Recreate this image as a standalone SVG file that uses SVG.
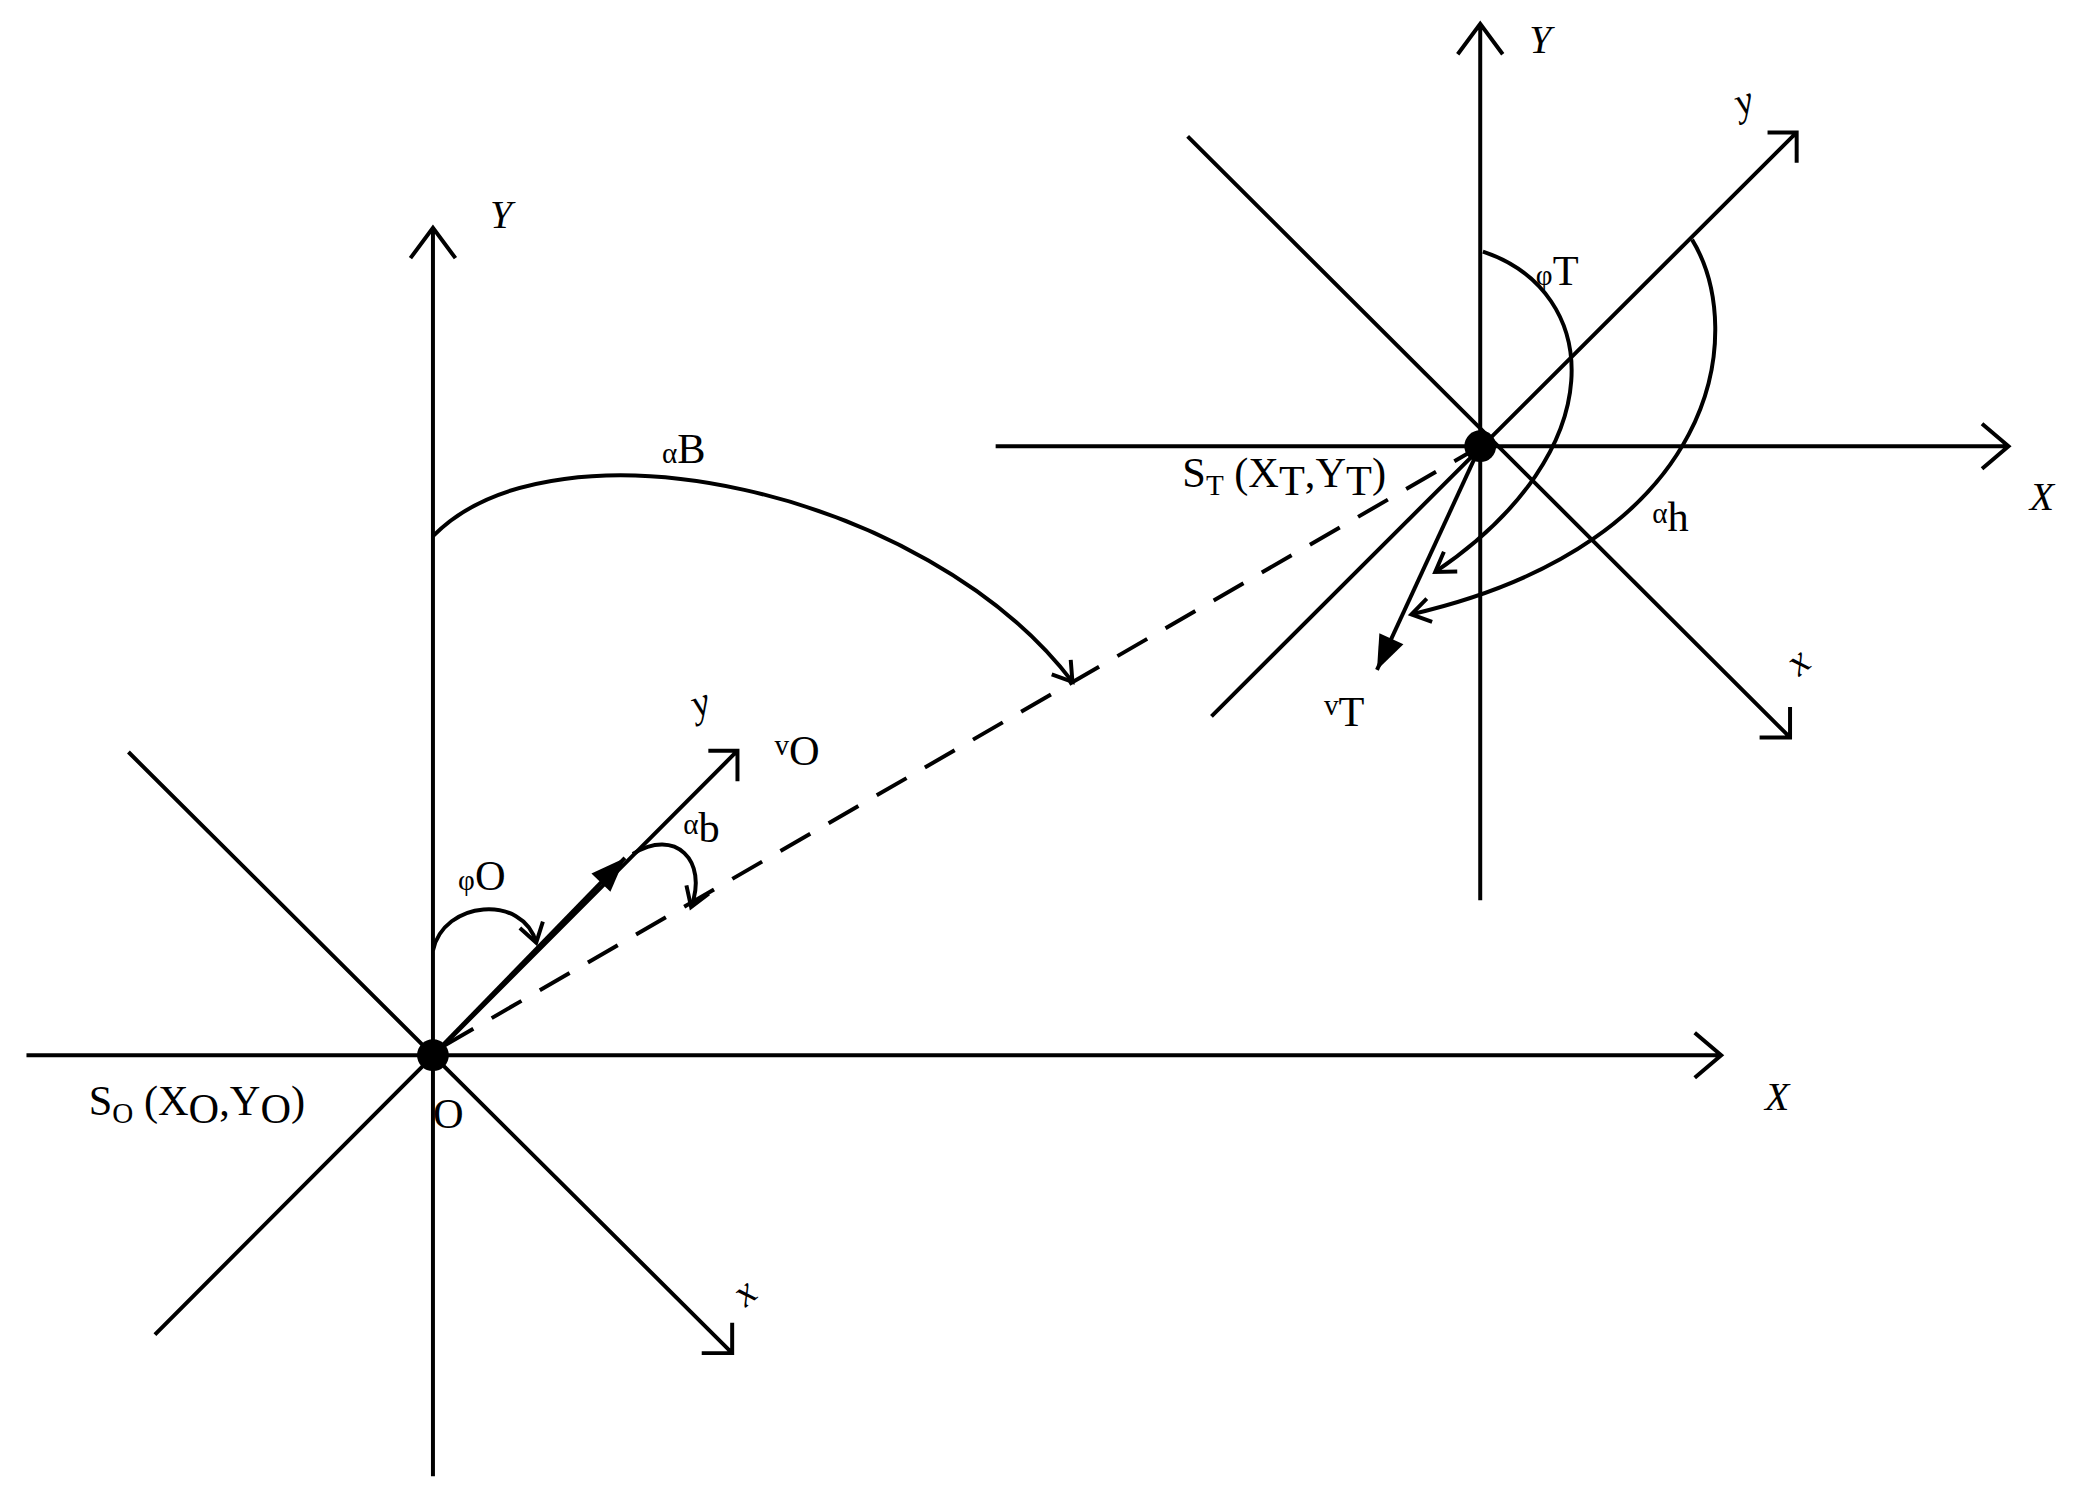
<svg xmlns="http://www.w3.org/2000/svg" width="2076" height="1500" viewBox="0 0 2076 1500">
<style>
.l{stroke:#000;stroke-width:3;fill:none}
.d{stroke:#000;stroke-width:3;fill:none;stroke-dasharray:26,16}
.t{font-family:"Liberation Serif",serif;font-size:32px;fill:#000}
.i{font-family:"Liberation Serif",serif;font-size:30px;font-style:italic;fill:#000}
.s{font-size:22px}
</style>
<defs>
<marker id="o" markerUnits="userSpaceOnUse" markerWidth="40" markerHeight="40" refX="0" refY="0" viewBox="-20 -20 40 40" orient="auto"><path d="M-14,-9 L0,0 L-14,9" stroke="#000" stroke-width="3" fill="none"/></marker>
<marker id="f" markerUnits="userSpaceOnUse" markerWidth="40" markerHeight="40" refX="0" refY="0" viewBox="-30 -20 40 40" orient="auto"><path d="M-26,-10 L0,0 L-26,10 Z" fill="#000"/></marker>
</defs>
<rect width="2076" height="1500" fill="#fff"/>
<g transform="scale(1.324)">
<g id="frameO">
<path class="l" d="M327,1115 V172 M310,195 L327,172 L344,195"/>
<path class="l" d="M20,797 H1300 M1280,780 L1300,797 L1280,814"/>
<path class="l" d="M97,568 L553,1022 M530,1022 H553 V999"/>
<path class="l" d="M117,1008 L557,567 M535,567 H557 V590"/>
<circle cx="327" cy="797" r="12"/>
<text class="i" x="370" y="172">Y</text>
<text class="i" x="1333" y="838">X</text>
<text class="i" x="522" y="540" transform="rotate(-20 530 530)">y</text>
<text class="i" x="555" y="985" transform="rotate(-40 563 975)">x</text>
<text class="t" x="67" y="842">S<tspan class="s" dy="6">O</tspan><tspan dy="-6"> (X</tspan><tspan dy="6">O</tspan><tspan dy="-6">,Y</tspan><tspan dy="6">O</tspan><tspan dy="-6">)</tspan></text>
<text class="t" x="327" y="852">O</text>
</g>
<g id="frameT">
<path class="l" d="M1118,680 V18 M1101,41 L1118,18 L1135,41"/>
<path class="l" d="M752,337 H1517 M1497,320 L1517,337 L1497,354"/>
<path class="l" d="M897,103 L1352,557 M1329,557 H1352 V534"/>
<path class="l" d="M915,541 L1357,100 M1335,100 H1357 V123"/>
<circle cx="1118" cy="337" r="12"/>
<text class="i" x="1155" y="40">Y</text>
<text class="i" x="1533" y="385">X</text>
<text class="i" x="1310" y="85" transform="rotate(-20 1320 75)">y</text>
<text class="i" x="1352" y="508" transform="rotate(-40 1360 500)">x</text>
<text class="t" x="893" y="368">S<tspan class="s" dy="6">T</tspan><tspan dy="-6"> (X</tspan><tspan dy="6">T</tspan><tspan dy="-6">,Y</tspan><tspan dy="6">T</tspan><tspan dy="-6">)</tspan></text>
</g>
<g id="connectors">
<path class="d" d="M335,790 L1118,337"/>
<path class="l" d="M327,797 L472,648" marker-end="url(#f)"/>
<path class="l" d="M1118,337 L1040,506" marker-end="url(#f)"/>
<path class="l" d="M327,718 C335,680 395,675 405,712" marker-end="url(#o)"/>
<path class="l" d="M478,645 C510,625 535,650 522,685" marker-end="url(#o)"/>
<path class="l" d="M327,405 C420,310 700,370 810,515" marker-end="url(#o)"/>
<path class="l" d="M1120,190 C1210,220 1220,340 1084,432" marker-end="url(#o)"/>
<path class="l" d="M1278,181 C1320,250 1300,410 1066,464" marker-end="url(#o)"/>
</g>
<g id="labels">
<text class="t" x="500" y="350"><tspan class="s">α</tspan>B</text>
<text class="t" x="585" y="578"><tspan class="s" dy="-8">v</tspan><tspan dy="8">O</tspan></text>
<text class="t" x="516" y="630"><tspan class="s">α</tspan><tspan dy="6">b</tspan></text>
<text class="t" x="346" y="672"><tspan class="s">φ</tspan>O</text>
<text class="t" x="1160" y="215"><tspan class="s">φ</tspan>T</text>
<text class="t" x="1248" y="395"><tspan class="s">α</tspan><tspan dy="6">h</tspan></text>
<text class="t" x="1000" y="548"><tspan class="s" dy="-8">v</tspan><tspan dy="8">T</tspan></text>
</g>
</g>
</svg>
